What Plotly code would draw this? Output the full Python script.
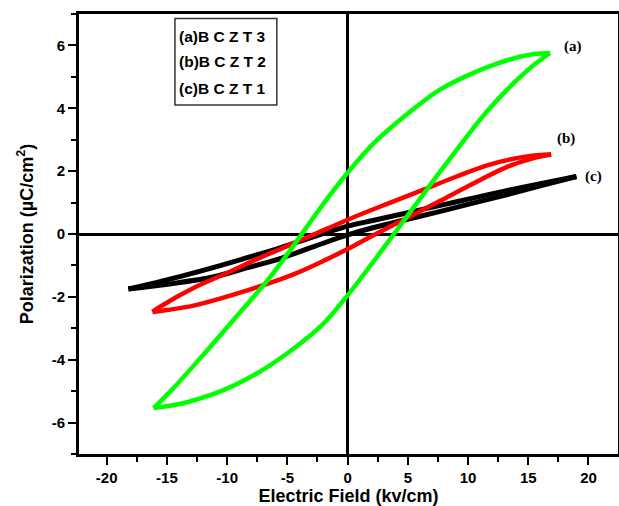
import plotly.graph_objects as go

# (a) BCZT3 - green loop: descending branch (+Emax -> -Emax) and ascending branch (-Emax -> +Emax)
E_a_down = [16.8, 15.5, 14.3, 12.4, 10.4, 7.7, 4.9, 2.1, 0.0, -1.7, -3.4, -5.0, -6.7, -8.9, -11.7, -14.4, -16.1]
P_a_down = [5.76, 5.73, 5.64, 5.42, 5.12, 4.60, 3.80, 2.86, 1.95, 1.12, 0.22, -0.64, -1.50, -2.48, -3.72, -4.88, -5.54]
E_a_up = [-16.1, -14.5, -13.1, -10.3, -7.5, -4.8, -2.0, 0.0, 2.1, 4.0, 6.3, 7.7, 9.6, 11.8, 14.9, 16.8]
P_a_up = [-5.54, -5.45, -5.33, -4.97, -4.43, -3.74, -2.85, -1.95, -0.90, 0.08, 1.27, 1.99, 2.95, 4.00, 5.20, 5.76]

# (b) BCZT2 - red loop
E_b_down = [16.9, 14.9, 11.8, 9.05, 6.3, 3.5, 0.8, -1.7, -4.5, -7.3, -10.0, -12.8, -15.5, -16.2]
P_b_down = [2.53, 2.47, 2.21, 1.83, 1.41, 0.99, 0.58, 0.17, -0.30, -0.76, -1.24, -1.72, -2.30, -2.48]
E_b_up = [-16.2, -15.0, -12.8, -8.8, -4.6, -1.7, 0.0, 2.1, 4.9, 7.7, 10.4, 13.2, 15.3, 16.9]
P_b_up = [-2.48, -2.42, -2.28, -1.85, -1.30, -0.80, -0.48, -0.05, 0.50, 1.06, 1.60, 2.13, 2.40, 2.53]

# (c) BCZT1 - black loop
E_c_down = [19.0, 16.0, 13.2, 10.4, 7.7, 4.9, 2.1, 0.0, -2.8, -5.6, -8.4, -11.1, -14.6, -18.2]
P_c_down = [1.83, 1.60, 1.38, 1.14, 0.91, 0.67, 0.43, 0.25, -0.08, -0.44, -0.76, -1.06, -1.42, -1.75]
E_c_up = [-18.2, -14.6, -11.1, -8.4, -5.6, -2.8, 0.0, 2.1, 4.9, 7.7, 10.4, 13.2, 16.0, 19.0]
P_c_up = [-1.75, -1.58, -1.36, -1.08, -0.78, -0.40, -0.03, 0.20, 0.46, 0.72, 0.98, 1.25, 1.53, 1.83]

samples = ["(a)BCZT3", "(b)BCZT2", "(c)BCZT1"]
curve_tags = ["(a)", "(b)", "(c)"]
tag_pos_E = [18.7, 18.1, 20.4]
tag_pos_P = [5.97, 3.04, 1.84]

x_ticks = [-20, -15, -10, -5, 0, 5, 10, 15, 20]
y_ticks = [-6, -4, -2, 0, 2, 4, 6]

loops = [
    (E_c_down, P_c_down, E_c_up, P_c_up, "#000000", 5),
    (E_b_down, P_b_down, E_b_up, P_b_up, "#ff0000", 4.5),
    (E_a_down, P_a_down, E_a_up, P_a_up, "#00ff00", 4.5),
]

fig = go.Figure()
for e_dn, p_dn, e_up, p_up, col, lw in loops:
    fig.add_trace(go.Scatter(
        x=e_dn + [None] + e_up,
        y=p_dn + [None] + p_up,
        mode="lines",
        line=dict(color=col, width=lw, shape="spline", smoothing=1.0),
        connectgaps=False,
        hoverinfo="skip",
    ))

sans_bold = dict(family="Liberation Sans, Arial, sans-serif", color="black", weight="bold")
serif_bold = dict(family="Liberation Serif, Times New Roman, serif", color="black", weight="bold")

# curve tags next to the loop tips
for tag, ex, py in zip(curve_tags, tag_pos_E, tag_pos_P):
    fig.add_annotation(x=ex, y=py, text=tag, showarrow=False,
                       font=dict(size=15, **serif_bold), xanchor="center", yanchor="middle")

# boxed key in the upper-left corner
fig.add_shape(type="rect", xref="paper", yref="paper",
              x0=0.178, x1=0.367, y0=0.793, y1=0.990,
              line=dict(color="#333333", width=1.5), fillcolor="white", layer="above")
key_y = [0.948, 0.891, 0.830]
for name, ky in zip(samples, key_y):
    label = name[:4] + " " + " ".join(name[4:])
    fig.add_annotation(xref="paper", yref="paper", x=0.181, y=ky, text=label,
                       showarrow=False, xanchor="left", yanchor="middle",
                       font=dict(size=15.5, **sans_bold))

axis_common = dict(
    showline=True, linewidth=3, linecolor="black", mirror=True,
    ticks="outside", ticklen=8, tickwidth=2, tickcolor="black",
    showgrid=False, zeroline=True, zerolinecolor="black", zerolinewidth=2.5,
    tickfont=dict(size=15, **sans_bold),
    automargin=False,
)

fig.update_xaxes(
    range=[-22.3, 22.45], tickvals=x_ticks, ticktext=[str(v) for v in x_ticks],
    minor=dict(ticks="outside", ticklen=5, tickwidth=2, tickcolor="black", dtick=2.5, tick0=0),
    title=dict(text="Electric Field (kv/cm)", font=dict(size=18, **sans_bold), standoff=2),
    **axis_common,
)
fig.update_yaxes(
    range=[-7, 7], tickvals=y_ticks, ticktext=[str(v) for v in y_ticks],
    minor=dict(ticks="outside", ticklen=5, tickwidth=2, tickcolor="black", dtick=1, tick0=0),
    title=dict(text="Polarization (µC/cm<sup>2</sup>)", font=dict(size=18, **sans_bold), standoff=14),
    **axis_common,
)

fig.update_layout(
    width=619, height=506,
    margin=dict(l=79, r=1, t=14, b=52),
    plot_bgcolor="white", paper_bgcolor="white",
    showlegend=False,
)

fig.write_html("out.html")
